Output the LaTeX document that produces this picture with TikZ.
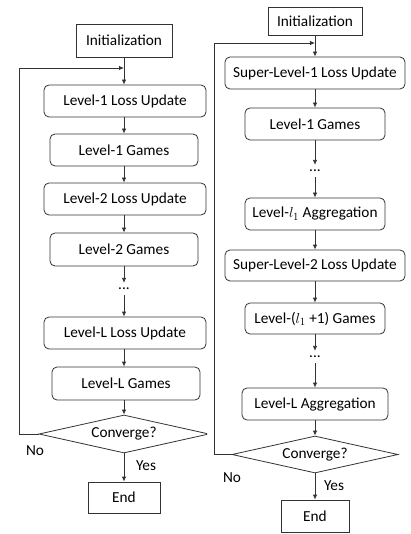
\documentclass[tikz,border=0pt]{standalone}
\usepackage{fontspec}
\setmainfont{Carlito}
\usetikzlibrary{shapes.geometric, arrows.meta}

\tikzset{
  flowtext/.style={font=\fontsize{15.3}{18}\selectfont},
  flowbox/.style={flowtext, draw=black!80, line width=0.8pt, rounded corners=5pt,
    minimum height=32pt, inner sep=0pt},
  termbox/.style={flowtext, draw=black!80, line width=0.8pt, minimum height=32pt, inner sep=0pt},
  decision/.style={flowtext, diamond, draw=black!80, line width=0.8pt, aspect=4.5,
    inner sep=0pt, minimum width=170pt, minimum height=38pt},
  dotsnode/.style={flowtext, inner xsep=1pt, inner ysep=5pt},
  flowarr/.style={-{Latex[length=5pt,width=4.5pt]}, line width=0.8pt, draw=black!80},
}

\begin{document}
\begin{tikzpicture}[x=1pt, y=-1pt]
  \useasboundingbox (0,0) rectangle (411,534);
  \def\lx{124}
  \def\rx{315}

  % Left flow (cut at its right edge)
  \begin{scope}
    \clip (0,0) rectangle (207,534);
    \node[termbox, minimum width=96pt, minimum height=33pt] (initL) at (\lx,40.5) {Initialization};
    \node[flowbox, minimum width=162pt] (lossL1) at (\lx+1,101) {Level-1 Loss Update};
    \node[flowbox, minimum width=148pt] (gameL1) at (\lx,150) {Level-1 Games};
    \node[flowbox, minimum width=162pt] (lossL2) at (\lx+1,199) {Level-2 Loss Update};
    \node[flowbox, minimum width=148pt, minimum height=33pt] (gameL2) at (\lx,249.5) {Level-2 Games};
    \node[dotsnode] (dotsL) at (\lx,289) {...};
    \node[flowbox, minimum width=162pt] (lossLL) at (\lx+1,333) {Level-L Loss Update};
    \node[flowbox, minimum width=148pt, minimum height=33pt] (gameLL) at (\lx+2,383.5) {Level-L Games};
    \node[decision] (cvgL) at (\lx,434) {Converge?};
    \node[termbox, minimum width=72pt, minimum height=31pt] (endL) at (\lx,497.5) {End};

    \coordinate (joinL) at (\lx,68);
    \coordinate (backL) at (19,68);

    \draw[flowarr] (initL) -- (initL |- lossL1.north);
    \draw[flowarr] (lossL1.south -| gameL1) -- (gameL1);
    \draw[flowarr] (gameL1) -- (gameL1 |- lossL2.north);
    \draw[flowarr] (lossL2.south -| gameL2) -- (gameL2);
    \draw[flowarr] (gameL2) -- (dotsL);
    \draw[flowarr] (dotsL) -- (dotsL |- lossLL.north);
    \draw[flowarr] (lossLL.south -| cvgL) -- (cvgL |- gameLL.north);
    \draw[flowarr] (gameLL.south -| cvgL) -- (cvgL);
    \draw[flowarr] (cvgL) -- (endL);
    \draw[flowarr] (cvgL.west) -| (backL) -- (joinL);

    \node[flowtext] (noL) at (35,451) {No};
    \node[flowtext] (yesL) at (146,466) {Yes};
  \end{scope}

  % Right flow
  \node[termbox, minimum width=94pt, minimum height=28pt] (initR) at (\rx,21) {Initialization};
  \node[flowbox, minimum width=180pt] (lossR1) at (\rx,73) {Super-Level-1 Loss Update};
  \node[flowbox, minimum width=140pt] (gameR1) at (\rx,124) {Level-1 Games};
  \node[dotsnode] (dotsR1) at (\rx,171) {...};
  \node[flowbox, minimum width=140pt] (aggR1) at (\rx,214) {Level-$l_1$ Aggregation};
  \node[flowbox, minimum width=180pt, minimum height=31pt] (lossR2) at (\rx,265.5) {Super-Level-2 Loss Update};
  \node[flowbox, minimum width=140pt, minimum height=31pt] (gameR2) at (\rx,318.5) {Level-($l_1$ +1) Games};
  \node[dotsnode] (dotsR2) at (\rx,357) {...};
  \node[flowbox, minimum width=146pt] (aggRL) at (\rx,404) {Level-L Aggregation};
  \node[decision, minimum width=166pt, minimum height=37pt] (cvgR) at (\rx,454.5) {Converge?};
  \node[termbox, minimum width=68pt] (endR) at (\rx,516) {End};

  \coordinate (joinR) at (\rx,43);
  \coordinate (backR) at (214,43);

  \draw[flowarr] (initR) -- (lossR1);
  \draw[flowarr] (lossR1) -- (gameR1);
  \draw[flowarr] (gameR1) -- (dotsR1);
  \draw[flowarr] (dotsR1) -- (aggR1);
  \draw[flowarr] (aggR1) -- (lossR2);
  \draw[flowarr] (lossR2) -- (gameR2);
  \draw[flowarr] (gameR2) -- (dotsR2);
  \draw[flowarr] (dotsR2) -- (aggRL);
  \draw[flowarr] (aggRL) -- (cvgR);
  \draw[flowarr] (cvgR) -- (endR);
  \draw[flowarr] (cvgR.west) -| (backR) -- (joinR);

  \node[flowtext] (noR) at (232,478) {No};
  \node[flowtext] (yesR) at (334,486) {Yes};
\end{tikzpicture}
\end{document}
